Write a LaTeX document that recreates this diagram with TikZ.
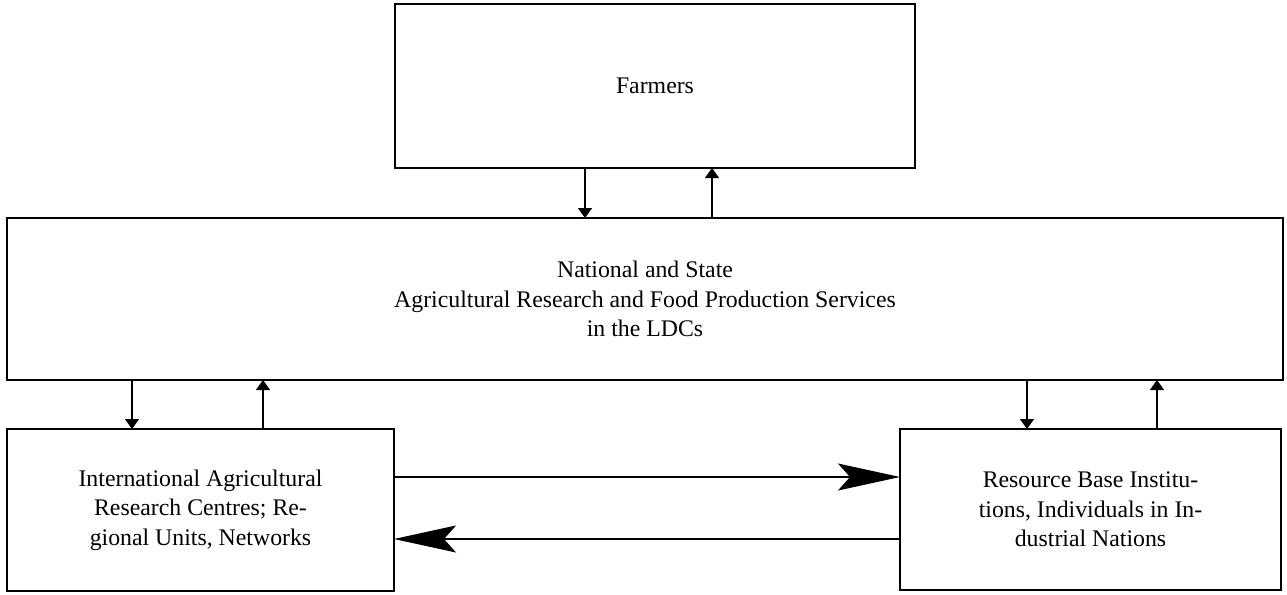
\documentclass[tikz,border=0pt]{standalone}
\usepackage{fontspec}
\setmainfont{Liberation Serif}
\usetikzlibrary{arrows.meta}
\begin{document}
\begin{tikzpicture}[x=1pt,y=-1pt,
  box/.style={draw,line width=1.4pt,inner sep=0pt,outer sep=0pt,align=center,
    font=\fontsize{23.8}{29.5}\selectfont},
  small/.style={line width=1.4pt,-{Triangle[width=14pt,length=10pt]}},
  big/.style={line width=1.4pt,-{Stealth[width=27pt,length=62pt,inset=12pt]}}]
\useasboundingbox (0,0) rectangle (1287,594);
\node[box,minimum width=520pt,minimum height=164pt] (farm) at (655,86) {Farmers};
\node[box,minimum width=1276pt,minimum height=162pt] (nat) at (645,299)
  {National and State\\Agricultural Research and Food Production Services\\in the LDCs};
\node[box,minimum width=387pt,minimum height=162pt] (iarc) at (200.5,510)
  {International Agricultural\\Research Centres; Re-\\gional Units, Networks};
\node[box,minimum width=381pt,minimum height=161pt] (rbi) at (1090.5,509.5)
  {Resource Base Institu-\\tions, Individuals in In-\\dustrial Nations};
\draw[small] (585,0 |- farm.south) -- (585,0 |- nat.north);
\draw[small] (712,0 |- nat.north) -- (712,0 |- farm.south);
\draw[small] (132,0 |- nat.south) -- (132,0 |- iarc.north);
\draw[small] (263,0 |- iarc.north) -- (263,0 |- nat.south);
\draw[small] (1027,0 |- nat.south) -- (1027,0 |- rbi.north);
\draw[small] (1157,0 |- rbi.north) -- (1157,0 |- nat.south);
\draw[big] (iarc.east |- 0,477) -- (rbi.west |- 0,477);
\draw[big] (rbi.west |- 0,539) -- (iarc.east |- 0,539);
\end{tikzpicture}
\end{document}
